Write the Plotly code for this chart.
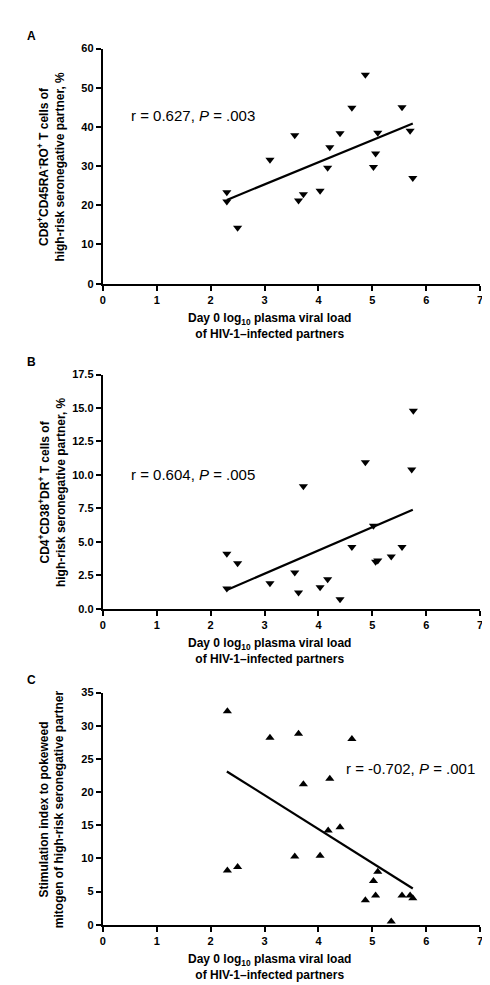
import numpy as np
import plotly.graph_objects as go

# ---- data ----
viral_load_a = [2.30, 2.30, 2.50, 3.10, 3.56, 3.63, 3.72, 4.03, 4.17, 4.21, 4.40, 4.62, 4.87, 5.02, 5.06, 5.10, 5.55, 5.70, 5.75]
cd8_pct = [23.3, 21.0, 14.3, 31.6, 37.9, 21.2, 22.8, 23.7, 29.6, 34.8, 38.4, 44.9, 53.3, 29.8, 33.2, 38.5, 45.0, 39.0, 27.0]

viral_load_b = [2.30, 2.30, 2.50, 3.10, 3.56, 3.63, 3.72, 4.03, 4.17, 4.40, 4.62, 4.87, 5.02, 5.06, 5.10, 5.35, 5.55, 5.73, 5.76]
cd4_pct = [4.1, 1.5, 3.4, 1.9, 2.7, 1.2, 9.15, 1.6, 2.2, 0.7, 4.6, 10.95, 6.2, 3.5, 3.6, 3.9, 4.6, 10.4, 14.8]

viral_load_c = [2.31, 2.31, 2.50, 3.10, 3.56, 3.63, 3.72, 4.03, 4.18, 4.21, 4.40, 4.62, 4.87, 5.02, 5.06, 5.10, 5.35, 5.55, 5.70, 5.75]
stim_index = [32.2, 8.2, 8.7, 28.2, 10.3, 28.8, 21.2, 10.4, 14.2, 22.0, 14.7, 28.0, 3.7, 6.6, 4.4, 8.0, 0.5, 4.4, 4.4, 4.0]

fit_x_range = [2.3, 5.75]
x_ticks = [0, 1, 2, 3, 4, 5, 6, 7]
y_ticks_a = [0, 10, 20, 30, 40, 50, 60]
y_ticks_b = [0.0, 2.5, 5.0, 7.5, 10.0, 12.5, 15.0, 17.5]
y_tick_text_b = ["0.0", "2.5", "5.0", "7.5", "10.0", "12.5", "15.0", "17.5"]
y_ticks_c = [0, 5, 10, 15, 20, 25, 30, 35]

stats_text = ["r = 0.627, <i>P</i> = .003", "r = 0.604, <i>P</i> = .005", "r = -0.702, <i>P</i> = .001"]
stats_pos = [(0.48, 42.8), (0.48, 10.0), (4.47, 23.6)]
panel_letters = ["A", "B", "C"]
y_titles = [
    "CD8<sup>+</sup>CD45RA<sup>-</sup>RO<sup>+</sup> T cells of<br>high-risk seronegative partner, %",
    "CD4<sup>+</sup>CD38<sup>+</sup>DR<sup>+</sup> T cells of<br>high-risk seronegative partner, %",
    "Stimulation index to pokeweed<br>mitogen of high-risk seronegative partner",
]
x_title = "Day 0 log<sub>10</sub> plasma viral load<br>of HIV-1–infected partners"

W, H = 490, 985
FONT = "Liberation Sans, Arial, sans-serif"

# panel pixel geometry
x0_px, x7_px = 93, 475
panels_px = [(35, 273), (365, 602), (687, 922)]

def py(p):
    return 1 - p / H

fig = go.Figure()

panels = [
    (viral_load_a, cd8_pct, "triangle-down", [0, 60], y_ticks_a, [str(t) for t in y_ticks_a]),
    (viral_load_b, cd4_pct, "triangle-down", [0, 17.5], y_ticks_b, y_tick_text_b),
    (viral_load_c, stim_index, "triangle-up", [0, 35], y_ticks_c, [str(t) for t in y_ticks_c]),
]

for i, (xs, ys, sym, yr, yt, ytt) in enumerate(panels):
    n = i + 1
    xa = "x" if n == 1 else f"x{n}"
    ya = "y" if n == 1 else f"y{n}"
    fig.add_trace(go.Scatter(x=xs, y=ys, mode="markers", xaxis=xa, yaxis=ya,
                             marker=dict(symbol=sym, size=8, color="black"),
                             showlegend=False, hoverinfo="x+y"))
    slope, icpt = np.polyfit(xs, ys, 1)
    fx = np.array(fit_x_range)
    fig.add_trace(go.Scatter(x=fx, y=slope * fx + icpt, mode="lines", xaxis=xa, yaxis=ya,
                             line=dict(color="black", width=2.2),
                             showlegend=False, hoverinfo="skip"))
    top, bot = panels_px[i]
    axis_common = dict(showline=True, linecolor="black", linewidth=2.2,
                       ticks="outside", ticklen=5, tickwidth=2, tickcolor="black",
                       showgrid=False, zeroline=False,
                       tickfont=dict(family=FONT, size=11, color="black", weight="bold"))
    fig.update_layout(**{
        ("xaxis" if n == 1 else f"xaxis{n}"): dict(
            domain=[x0_px / W, x7_px / W], anchor=ya, range=[0, 7],
            tickvals=x_ticks, ticktext=[str(t) for t in x_ticks], **axis_common),
        ("yaxis" if n == 1 else f"yaxis{n}"): dict(
            domain=[py(bot), py(top)], anchor=xa, range=yr,
            tickvals=yt, ticktext=ytt, **axis_common),
    })
    # y title
    fig.add_annotation(x=41 / W, y=py((top + bot) / 2), xref="paper", yref="paper",
                       text=y_titles[i], textangle=-90, showarrow=False,
                       font=dict(family=FONT, size=12, color="black", weight="bold"),
                       xanchor="center", yanchor="middle")
    # x title
    fig.add_annotation(x=(x0_px + x7_px) / 2 / W - 0.045, y=py(bot + 26), xref="paper", yref="paper",
                       text=x_title, showarrow=False,
                       font=dict(family=FONT, size=12, color="black", weight="bold"),
                       xanchor="center", yanchor="top")
    # panel letter
    fig.add_annotation(x=14 / W, y=py(top - 13), xref="paper", yref="paper",
                       text=panel_letters[i], showarrow=False,
                       font=dict(family=FONT, size=12, color="black", weight="bold"),
                       xanchor="left", yanchor="middle")
    # stats
    sx, sy = stats_pos[i]
    fig.add_annotation(x=sx, y=sy, xref=xa, yref=ya, text=stats_text[i], showarrow=False,
                       font=dict(family=FONT, size=15, color="black"),
                       xanchor="left", yanchor="middle")

fig.update_layout(width=W, height=H, margin=dict(l=0, r=0, t=0, b=0),
                  plot_bgcolor="white", paper_bgcolor="white")

fig.write_html("out.html")
